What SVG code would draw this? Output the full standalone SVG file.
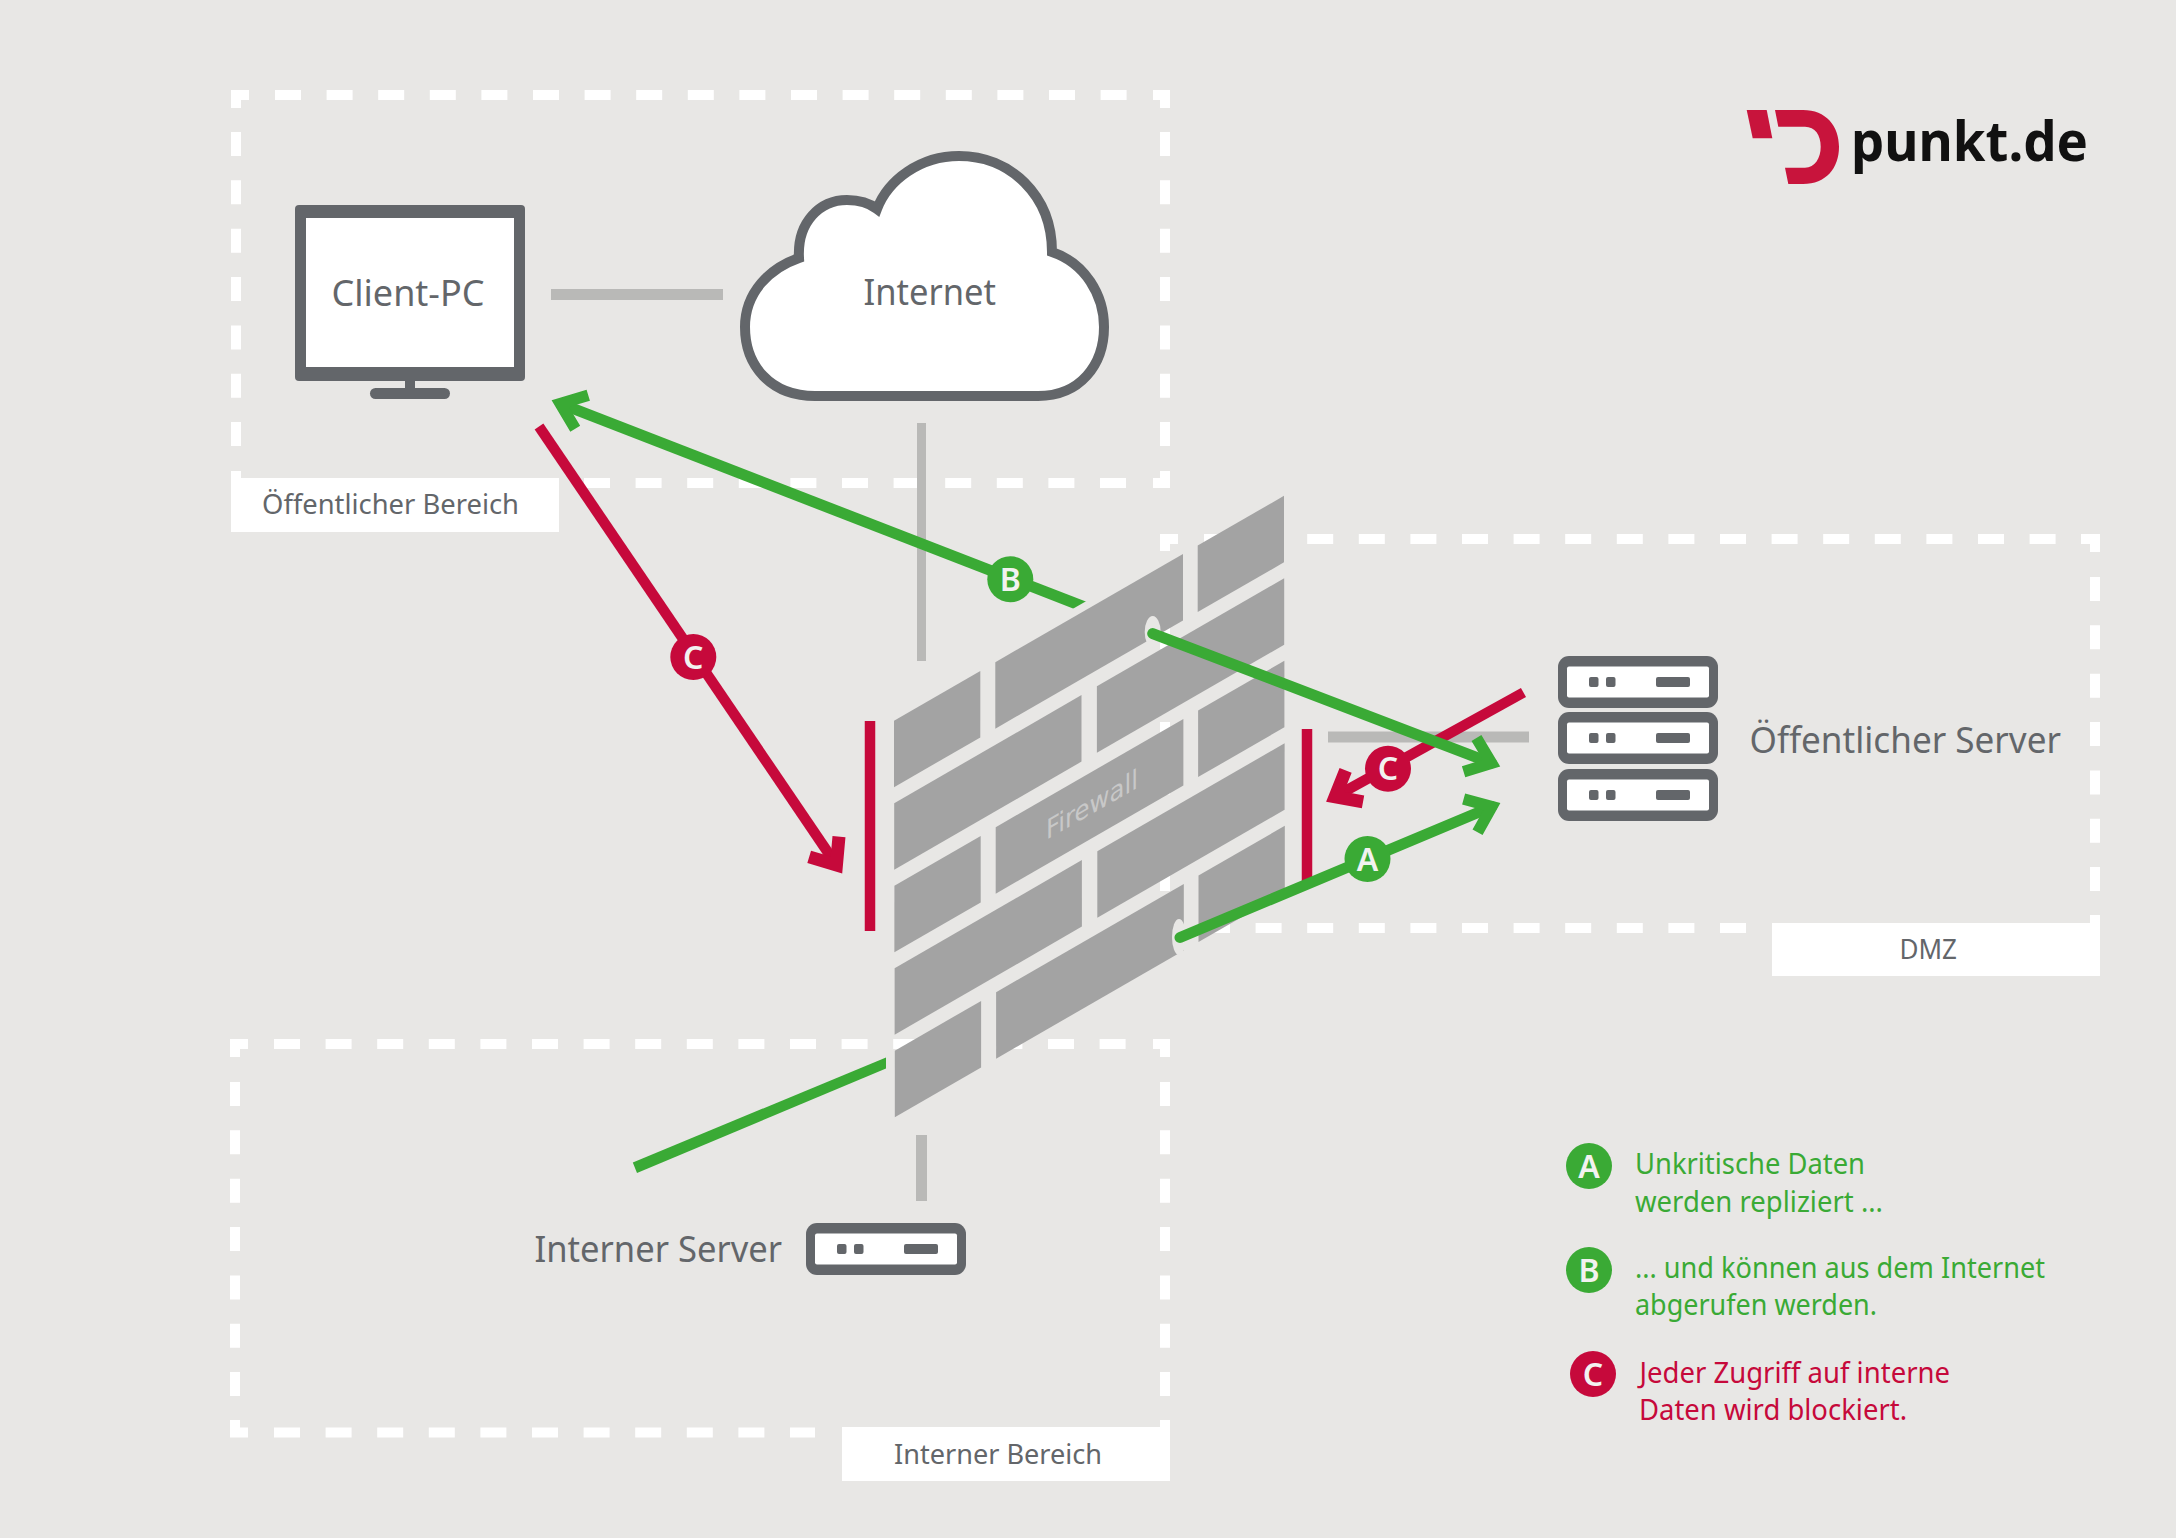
<svg xmlns="http://www.w3.org/2000/svg" width="2176" height="1538" viewBox="0 0 2176 1538">
<style>
text{font-family:"Noto Sans","Open Sans",sans-serif;font-weight:400}
.lbl{fill:#63666a;font-size:28px}
.big{fill:#63666a;font-size:36px}
.gt{fill:#3aaa35;font-size:29px}
.rt{fill:#c6093b;font-size:29px}
.dash{fill:none;stroke:#fff;stroke-width:10}
.h{stroke-dasharray:26 25.6}
.v{stroke-dasharray:24 24.35}
.brick{fill:#a3a3a3}
.con{fill:none;stroke:#b9b9b7}
.gl{fill:none;stroke:#3aaa35;stroke-width:11}
.rl{fill:none;stroke:#c6093b;stroke-width:10.500}
.gb{fill:#3aaa35}
.rb{fill:#c6093b}
.bt{fill:#f2f2f0;font-size:32px;font-weight:600;text-anchor:middle}
.sv{fill:#63666a}
.hole{fill:#e8e7e5}
</style>
<defs>
<marker id="ag" markerUnits="userSpaceOnUse" viewBox="-44 -28 46 56" refX="-10" refY="0" markerWidth="46" markerHeight="56" orient="auto" overflow="visible"><path d="M-33,-18 L-10,0 L-33,18" fill="none" stroke="#3aaa35" stroke-width="11.500"/></marker>
<marker id="ar" markerUnits="userSpaceOnUse" viewBox="-44 -28 46 56" refX="-10" refY="0" markerWidth="46" markerHeight="56" orient="auto" overflow="visible"><path d="M-33,-18 L-11,0 L-33,18" fill="none" stroke="#c6093b" stroke-width="13"/></marker>
<g id="unit"><rect width="160" height="52" rx="11" class="sv"/><rect x="9" y="10.500" width="142" height="31" rx="2" fill="#fff"/><rect x="31" y="21" width="9.500" height="10" rx="2" class="sv"/><rect x="48" y="21" width="9.500" height="10" rx="2" class="sv"/><rect x="98" y="21" width="34" height="10" rx="2" class="sv"/></g>
<g id="rowA"><polygon class="brick" points="894,720.7 980.3,670.9 980.3,737.4 894,787.2"/><polygon class="brick" points="995.3,662.2 1183,554 1183,620.5 995.3,728.7"/><polygon class="brick" points="1197.7,545.6 1284,495.800 1284,562.3 1197.7,612.1"/></g>
<g id="rowB"><polygon class="brick" points="894,720.7 1081.3,612.600 1081.3,679.100 894,787.2"/><polygon class="brick" points="1096.700,603.700 1284,495.800 1284,562.3 1096.700,670.2"/></g>
<clipPath id="cutB"><polygon points="480,370 1200,370 1200,536.3 900,707.6 480,707.6"/></clipPath>
</defs>
<rect id="background" width="2176" height="1538" fill="#e8e7e5"/>

<g id="zone-public">
<path class="dash h" d="M275 95H1127M584 483H1127"/>
<path class="dash v" d="M236 132V447M1165 132V447"/>
<path class="dash" d="M236 108V95H249M1153 95H1165V108M1165 471V483H1153M236 471V483"/>
</g>
<g id="zone-internal">
<path class="dash h" d="M274 1044H1127M274 1432.500H815"/>
<path class="dash v" d="M235 1082V1396M1165 1082V1396"/>
<path class="dash" d="M235 1057V1044H248M1153 1044H1165V1057M235 1420V1432.500H248M1165 1420V1432"/>
</g>
<g id="zone-dmz">
<path class="dash h" d="M1204 539H2056M1204 928H1746"/>
<path class="dash v" d="M2095 577V891M1165 577V891"/>
<path class="dash" d="M1165 551V539H1178M2081 539H2095V552M2095 915V928"/>
</g>

<g id="firewall">
<use href="#rowA"/>
<use href="#rowB" transform="translate(0.200,82.5)"/>
<use href="#rowA" transform="translate(0.400,165)"/>
<use href="#rowB" transform="translate(0.600,247.5)"/>
<use href="#rowA" transform="translate(0.800,330)"/>
<ellipse class="hole" cx="1152.700" cy="632" rx="8" ry="16"/>
<ellipse class="hole" cx="1179" cy="937" rx="7" ry="18"/>
<text transform="matrix(1,-0.571,0,1,1046,840)" font-size="27" style="font-family:'DejaVu Sans',sans-serif;font-weight:400" fill="#c8c8c8" textLength="92" lengthAdjust="spacingAndGlyphs">Firewall</text>
</g>

<g id="connectors">
<path class="con" stroke-width="11" d="M551 294.500H723M1328 737H1529"/>
<path class="con" stroke-width="9" d="M921.500 423V661"/>
<path class="con" stroke-width="11" d="M921.500 1135V1201"/>
<path class="rl" d="M870 721V931M1307 729V885"/>
<line class="rl" x1="539" y1="426.500" x2="837" y2="865.800" marker-end="url(#ar)"/>
<line class="rl" x1="1523.500" y1="692.500" x2="1334.200" y2="797.200" marker-end="url(#ar)"/>
<line class="gl" x1="1100" y1="613" x2="560.300" y2="403.600" clip-path="url(#cutB)" marker-end="url(#ag)"/>
<line class="gl" x1="1152.700" y1="633.600" x2="1491.500" y2="763.100" stroke-linecap="round" marker-end="url(#ag)"/>
<line class="gl" x1="1180" y1="937.500" x2="1491.800" y2="806.700" stroke-linecap="round" marker-end="url(#ag)"/>
<polygon class="gb" points="632.800,1162.500 886,1057.500 886,1068.500 637,1173"/>
</g>

<g id="badge-line-a"><circle class="gb" cx="1367.500" cy="859" r="23"/><text class="bt" x="1367.500" y="870.500">A</text></g>
<g id="badge-line-b"><circle class="gb" cx="1010.300" cy="579.300" r="23"/><text class="bt" x="1010.300" y="590.500">B</text></g>
<g id="badge-line-c1"><circle class="rb" cx="693.300" cy="657" r="23"/><text class="bt" x="693.300" y="668.500">C</text></g>
<g id="badge-line-c2"><circle class="rb" cx="1388" cy="768.700" r="23"/><text class="bt" x="1388" y="780">C</text></g>

<g id="client-pc">
<rect x="295" y="205" width="230" height="176" rx="4" class="sv"/>
<rect x="306" y="218" width="208" height="149" fill="#fff"/>
<rect x="405" y="381" width="10" height="8" class="sv"/>
<rect x="370" y="388" width="80" height="11" rx="5.500" class="sv"/>
<text class="big" x="331.500" y="306" textLength="153" lengthAdjust="spacingAndGlyphs">Client-PC</text>
</g>

<g id="internet">
<path d="M815 396H1038C1080 396 1104 365 1104 327C1104 295 1085 263 1052 252C1052 195 1010 156 959 156C920 156 888 180 877 209C868 202 858 200 847 200C820 200 797 222 799 258C770 268 745 292 745 327C745 365 770 396 815 396Z" fill="#fff" stroke="#63666a" stroke-width="10"/>
<text class="big" x="863.500" y="305" textLength="132.500" lengthAdjust="spacingAndGlyphs">Internet</text>
</g>

<g id="label-public"><rect x="231" y="478" width="328" height="54" fill="#fff"/><text class="lbl" x="262" y="514" textLength="257" lengthAdjust="spacingAndGlyphs">Öffentlicher Bereich</text></g>
<g id="label-dmz"><rect x="1772" y="923" width="328" height="53" fill="#fff"/><text class="lbl" x="1899.500" y="959" textLength="57.500" lengthAdjust="spacingAndGlyphs">DMZ</text></g>
<g id="label-internal"><rect x="842" y="1427" width="328" height="54" fill="#fff"/><text class="lbl" x="894" y="1464" textLength="208" lengthAdjust="spacingAndGlyphs">Interner Bereich</text></g>

<g id="public-server">
<use href="#unit" x="1558" y="656"/>
<use href="#unit" x="1558" y="712"/>
<use href="#unit" x="1558" y="769"/>
<text class="big" x="1749.500" y="753" textLength="311.500" lengthAdjust="spacingAndGlyphs">Öffentlicher Server</text>
</g>

<g id="internal-server">
<use href="#unit" x="806" y="1223"/>
<text class="big" x="534.500" y="1262" textLength="247.500" lengthAdjust="spacingAndGlyphs">Interner Server</text>
</g>

<g id="logo">
<polygon points="1746.700,110 1766.700,110 1772.300,138.300 1752.700,138.300" fill="#c8143c"/>
<path d="M1775 110H1803C1826 110 1839 126 1839 146.700C1839 168 1826 184 1803 184H1788.300L1785 167.700H1805C1815 167.700 1820.700 158 1820.700 146.700C1820.700 135 1815 126.700 1805 126.700H1778.300Z" fill="#c8143c"/>
<text x="1851" y="161" font-size="55" style="font-weight:700" fill="#111" textLength="237" lengthAdjust="spacingAndGlyphs">punkt.de</text>
</g>

<g id="legend-a"><circle class="gb" cx="1589" cy="1166" r="23"/><text class="bt" x="1589" y="1177.500">A</text>
<text class="gt" x="1635" y="1174" textLength="230" lengthAdjust="spacingAndGlyphs">Unkritische Daten</text>
<text class="gt" x="1635" y="1212" textLength="248" lengthAdjust="spacingAndGlyphs">werden repliziert ...</text></g>
<g id="legend-b"><circle class="gb" cx="1589" cy="1270" r="23"/><text class="bt" x="1589" y="1281.500">B</text>
<text class="gt" x="1635" y="1278" textLength="410" lengthAdjust="spacingAndGlyphs">... und können aus dem Internet</text>
<text class="gt" x="1635" y="1315" textLength="242" lengthAdjust="spacingAndGlyphs">abgerufen werden.</text></g>
<g id="legend-c"><circle class="rb" cx="1593" cy="1374" r="23"/><text class="bt" x="1593" y="1385.500">C</text>
<text class="rt" x="1639.500" y="1383" textLength="310.500" lengthAdjust="spacingAndGlyphs">Jeder Zugriff auf interne</text>
<text class="rt" x="1639" y="1420" textLength="268" lengthAdjust="spacingAndGlyphs">Daten wird blockiert.</text></g>
</svg>
